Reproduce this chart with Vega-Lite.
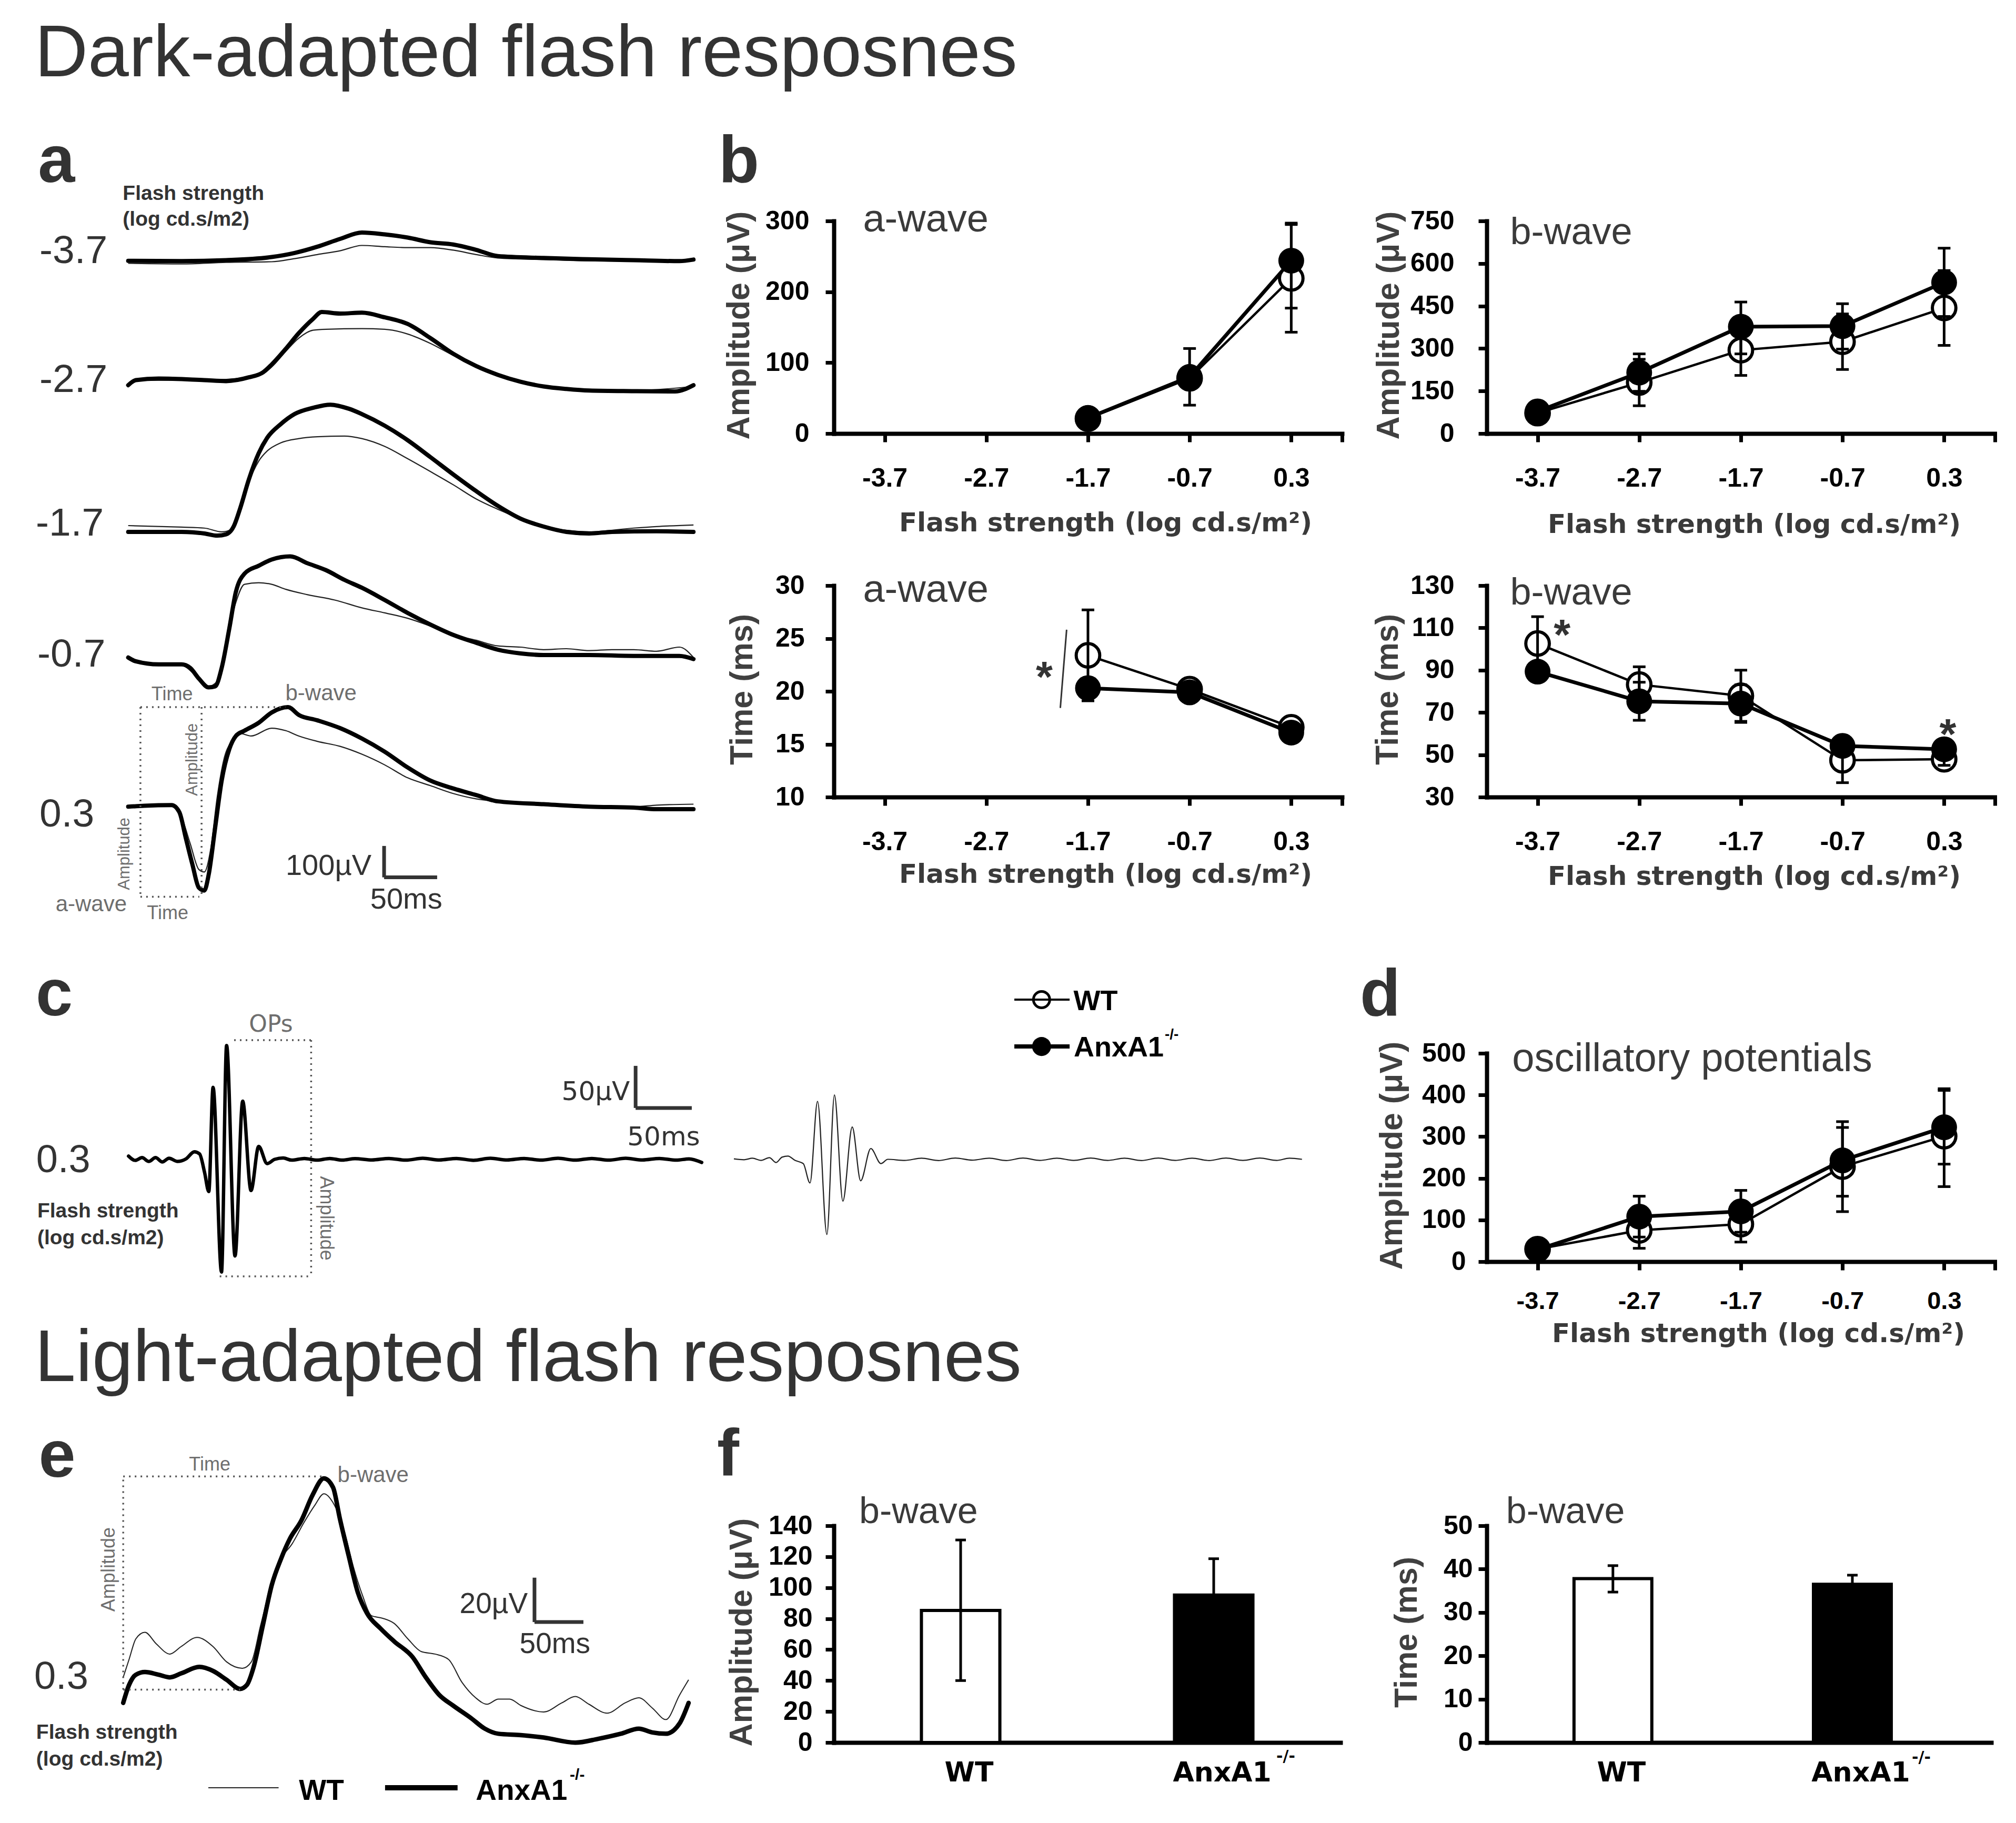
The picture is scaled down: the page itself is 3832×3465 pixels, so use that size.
{
"$schema": "https://vega.github.io/schema/vega-lite/v6.json",
"padding": 0,
"background": "#ffffff",
"columns": 3,
"align": "each",
"bounds": "flush",
"spacing": {"row": 289, "column": 275},
"datasets": {
"traceA": [
{"flash":"-3.7","geno":"AnxA1-/-","t":0,"uv":1738},{"flash":"-3.7","geno":"AnxA1-/-","t":49,"uv":1737},{"flash":"-3.7","geno":"AnxA1-/-","t":90,"uv":1740},{"flash":"-3.7","geno":"AnxA1-/-","t":132,"uv":1750},{"flash":"-3.7","geno":"AnxA1-/-","t":153,"uv":1763},{"flash":"-3.7","geno":"AnxA1-/-","t":174,"uv":1783},{"flash":"-3.7","geno":"AnxA1-/-","t":195,"uv":1808},{"flash":"-3.7","geno":"AnxA1-/-","t":215,"uv":1828},{"flash":"-3.7","geno":"AnxA1-/-","t":236,"uv":1822},{"flash":"-3.7","geno":"AnxA1-/-","t":257,"uv":1812},{"flash":"-3.7","geno":"AnxA1-/-","t":278,"uv":1797},{"flash":"-3.7","geno":"AnxA1-/-","t":299,"uv":1790},{"flash":"-3.7","geno":"AnxA1-/-","t":320,"uv":1773},{"flash":"-3.7","geno":"AnxA1-/-","t":340,"uv":1753},{"flash":"-3.7","geno":"AnxA1-/-","t":382,"uv":1747},{"flash":"-3.7","geno":"AnxA1-/-","t":424,"uv":1743},{"flash":"-3.7","geno":"AnxA1-/-","t":465,"uv":1740},{"flash":"-3.7","geno":"AnxA1-/-","t":507,"uv":1737},{"flash":"-3.7","geno":"AnxA1-/-","t":520,"uv":1742},
{"flash":"-3.7","geno":"WT","t":0,"uv":1730},{"flash":"-3.7","geno":"WT","t":49,"uv":1728},{"flash":"-3.7","geno":"WT","t":90,"uv":1733},{"flash":"-3.7","geno":"WT","t":132,"uv":1735},{"flash":"-3.7","geno":"WT","t":153,"uv":1745},{"flash":"-3.7","geno":"WT","t":174,"uv":1758},{"flash":"-3.7","geno":"WT","t":195,"uv":1770},{"flash":"-3.7","geno":"WT","t":215,"uv":1787},{"flash":"-3.7","geno":"WT","t":236,"uv":1783},{"flash":"-3.7","geno":"WT","t":257,"uv":1780},{"flash":"-3.7","geno":"WT","t":278,"uv":1780},{"flash":"-3.7","geno":"WT","t":299,"uv":1772},{"flash":"-3.7","geno":"WT","t":320,"uv":1758},{"flash":"-3.7","geno":"WT","t":340,"uv":1747},{"flash":"-3.7","geno":"WT","t":382,"uv":1742},{"flash":"-3.7","geno":"WT","t":424,"uv":1738},{"flash":"-3.7","geno":"WT","t":465,"uv":1737},{"flash":"-3.7","geno":"WT","t":520,"uv":1740},
{"flash":"-2.7","geno":"AnxA1-/-","t":0,"uv":1342},{"flash":"-2.7","geno":"AnxA1-/-","t":7,"uv":1358},{"flash":"-2.7","geno":"AnxA1-/-","t":28,"uv":1363},{"flash":"-2.7","geno":"AnxA1-/-","t":70,"uv":1358},{"flash":"-2.7","geno":"AnxA1-/-","t":90,"uv":1355},{"flash":"-2.7","geno":"AnxA1-/-","t":111,"uv":1367},{"flash":"-2.7","geno":"AnxA1-/-","t":124,"uv":1383},{"flash":"-2.7","geno":"AnxA1-/-","t":132,"uv":1408},{"flash":"-2.7","geno":"AnxA1-/-","t":145,"uv":1458},{"flash":"-2.7","geno":"AnxA1-/-","t":157,"uv":1508},{"flash":"-2.7","geno":"AnxA1-/-","t":170,"uv":1553},{"flash":"-2.7","geno":"AnxA1-/-","t":178,"uv":1575},{"flash":"-2.7","geno":"AnxA1-/-","t":195,"uv":1570},{"flash":"-2.7","geno":"AnxA1-/-","t":215,"uv":1573},{"flash":"-2.7","geno":"AnxA1-/-","t":236,"uv":1558},{"flash":"-2.7","geno":"AnxA1-/-","t":257,"uv":1537},{"flash":"-2.7","geno":"AnxA1-/-","t":278,"uv":1492},{"flash":"-2.7","geno":"AnxA1-/-","t":299,"uv":1442},{"flash":"-2.7","geno":"AnxA1-/-","t":320,"uv":1403},{"flash":"-2.7","geno":"AnxA1-/-","t":340,"uv":1375},{"flash":"-2.7","geno":"AnxA1-/-","t":361,"uv":1353},{"flash":"-2.7","geno":"AnxA1-/-","t":382,"uv":1338},{"flash":"-2.7","geno":"AnxA1-/-","t":403,"uv":1330},{"flash":"-2.7","geno":"AnxA1-/-","t":424,"uv":1325},{"flash":"-2.7","geno":"AnxA1-/-","t":465,"uv":1323},{"flash":"-2.7","geno":"AnxA1-/-","t":503,"uv":1322},{"flash":"-2.7","geno":"AnxA1-/-","t":520,"uv":1342},
{"flash":"-2.7","geno":"WT","t":0,"uv":1342},{"flash":"-2.7","geno":"WT","t":7,"uv":1358},{"flash":"-2.7","geno":"WT","t":70,"uv":1358},{"flash":"-2.7","geno":"WT","t":111,"uv":1367},{"flash":"-2.7","geno":"WT","t":124,"uv":1378},{"flash":"-2.7","geno":"WT","t":132,"uv":1400},{"flash":"-2.7","geno":"WT","t":145,"uv":1450},{"flash":"-2.7","geno":"WT","t":157,"uv":1492},{"flash":"-2.7","geno":"WT","t":170,"uv":1517},{"flash":"-2.7","geno":"WT","t":182,"uv":1520},{"flash":"-2.7","geno":"WT","t":215,"uv":1522},{"flash":"-2.7","geno":"WT","t":236,"uv":1520},{"flash":"-2.7","geno":"WT","t":257,"uv":1505},{"flash":"-2.7","geno":"WT","t":278,"uv":1475},{"flash":"-2.7","geno":"WT","t":299,"uv":1437},{"flash":"-2.7","geno":"WT","t":320,"uv":1405},{"flash":"-2.7","geno":"WT","t":340,"uv":1375},{"flash":"-2.7","geno":"WT","t":382,"uv":1338},{"flash":"-2.7","geno":"WT","t":424,"uv":1325},{"flash":"-2.7","geno":"WT","t":465,"uv":1325},{"flash":"-2.7","geno":"WT","t":520,"uv":1338},
{"flash":"-1.7","geno":"AnxA1-/-","t":0,"uv":875},{"flash":"-1.7","geno":"AnxA1-/-","t":49,"uv":875},{"flash":"-1.7","geno":"AnxA1-/-","t":70,"uv":870},{"flash":"-1.7","geno":"AnxA1-/-","t":82,"uv":863},{"flash":"-1.7","geno":"AnxA1-/-","t":90,"uv":867},{"flash":"-1.7","geno":"AnxA1-/-","t":97,"uv":892},{"flash":"-1.7","geno":"AnxA1-/-","t":103,"uv":950},{"flash":"-1.7","geno":"AnxA1-/-","t":111,"uv":1042},{"flash":"-1.7","geno":"AnxA1-/-","t":120,"uv":1125},{"flash":"-1.7","geno":"AnxA1-/-","t":128,"uv":1175},{"flash":"-1.7","geno":"AnxA1-/-","t":140,"uv":1217},{"flash":"-1.7","geno":"AnxA1-/-","t":153,"uv":1250},{"flash":"-1.7","geno":"AnxA1-/-","t":170,"uv":1270},{"flash":"-1.7","geno":"AnxA1-/-","t":186,"uv":1280},{"flash":"-1.7","geno":"AnxA1-/-","t":203,"uv":1267},{"flash":"-1.7","geno":"AnxA1-/-","t":215,"uv":1250},{"flash":"-1.7","geno":"AnxA1-/-","t":236,"uv":1213},{"flash":"-1.7","geno":"AnxA1-/-","t":257,"uv":1167},{"flash":"-1.7","geno":"AnxA1-/-","t":278,"uv":1113},{"flash":"-1.7","geno":"AnxA1-/-","t":299,"uv":1058},{"flash":"-1.7","geno":"AnxA1-/-","t":320,"uv":1005},{"flash":"-1.7","geno":"AnxA1-/-","t":340,"uv":958},{"flash":"-1.7","geno":"AnxA1-/-","t":361,"uv":917},{"flash":"-1.7","geno":"AnxA1-/-","t":382,"uv":892},{"flash":"-1.7","geno":"AnxA1-/-","t":403,"uv":875},{"flash":"-1.7","geno":"AnxA1-/-","t":424,"uv":870},{"flash":"-1.7","geno":"AnxA1-/-","t":445,"uv":875},{"flash":"-1.7","geno":"AnxA1-/-","t":486,"uv":877},{"flash":"-1.7","geno":"AnxA1-/-","t":520,"uv":875},
{"flash":"-1.7","geno":"WT","t":0,"uv":895},{"flash":"-1.7","geno":"WT","t":49,"uv":890},{"flash":"-1.7","geno":"WT","t":70,"uv":887},{"flash":"-1.7","geno":"WT","t":86,"uv":875},{"flash":"-1.7","geno":"WT","t":95,"uv":883},{"flash":"-1.7","geno":"WT","t":103,"uv":942},{"flash":"-1.7","geno":"WT","t":111,"uv":1033},{"flash":"-1.7","geno":"WT","t":120,"uv":1100},{"flash":"-1.7","geno":"WT","t":128,"uv":1133},{"flash":"-1.7","geno":"WT","t":140,"uv":1158},{"flash":"-1.7","geno":"WT","t":157,"uv":1172},{"flash":"-1.7","geno":"WT","t":174,"uv":1178},{"flash":"-1.7","geno":"WT","t":199,"uv":1180},{"flash":"-1.7","geno":"WT","t":215,"uv":1172},{"flash":"-1.7","geno":"WT","t":236,"uv":1147},{"flash":"-1.7","geno":"WT","t":257,"uv":1108},{"flash":"-1.7","geno":"WT","t":278,"uv":1067},{"flash":"-1.7","geno":"WT","t":299,"uv":1025},{"flash":"-1.7","geno":"WT","t":320,"uv":980},{"flash":"-1.7","geno":"WT","t":340,"uv":947},{"flash":"-1.7","geno":"WT","t":361,"uv":917},{"flash":"-1.7","geno":"WT","t":382,"uv":892},{"flash":"-1.7","geno":"WT","t":403,"uv":880},{"flash":"-1.7","geno":"WT","t":424,"uv":875},{"flash":"-1.7","geno":"WT","t":465,"uv":887},{"flash":"-1.7","geno":"WT","t":486,"uv":892},{"flash":"-1.7","geno":"WT","t":520,"uv":897},
{"flash":"-0.7","geno":"AnxA1-/-","t":0,"uv":475},{"flash":"-0.7","geno":"AnxA1-/-","t":7,"uv":463},{"flash":"-0.7","geno":"AnxA1-/-","t":28,"uv":453},{"flash":"-0.7","geno":"AnxA1-/-","t":49,"uv":453},{"flash":"-0.7","geno":"AnxA1-/-","t":57,"uv":442},{"flash":"-0.7","geno":"AnxA1-/-","t":65,"uv":408},{"flash":"-0.7","geno":"AnxA1-/-","t":74,"uv":380},{"flash":"-0.7","geno":"AnxA1-/-","t":80,"uv":383},{"flash":"-0.7","geno":"AnxA1-/-","t":86,"uv":442},{"flash":"-0.7","geno":"AnxA1-/-","t":93,"uv":567},{"flash":"-0.7","geno":"AnxA1-/-","t":99,"uv":683},{"flash":"-0.7","geno":"AnxA1-/-","t":107,"uv":742},{"flash":"-0.7","geno":"AnxA1-/-","t":120,"uv":767},{"flash":"-0.7","geno":"AnxA1-/-","t":132,"uv":787},{"flash":"-0.7","geno":"AnxA1-/-","t":149,"uv":797},{"flash":"-0.7","geno":"AnxA1-/-","t":165,"uv":775},{"flash":"-0.7","geno":"AnxA1-/-","t":182,"uv":753},{"flash":"-0.7","geno":"AnxA1-/-","t":199,"uv":722},{"flash":"-0.7","geno":"AnxA1-/-","t":215,"uv":697},{"flash":"-0.7","geno":"AnxA1-/-","t":236,"uv":658},{"flash":"-0.7","geno":"AnxA1-/-","t":257,"uv":617},{"flash":"-0.7","geno":"AnxA1-/-","t":278,"uv":580},{"flash":"-0.7","geno":"AnxA1-/-","t":299,"uv":547},{"flash":"-0.7","geno":"AnxA1-/-","t":320,"uv":522},{"flash":"-0.7","geno":"AnxA1-/-","t":340,"uv":500},{"flash":"-0.7","geno":"AnxA1-/-","t":361,"uv":488},{"flash":"-0.7","geno":"AnxA1-/-","t":382,"uv":483},{"flash":"-0.7","geno":"AnxA1-/-","t":424,"uv":483},{"flash":"-0.7","geno":"AnxA1-/-","t":465,"uv":480},{"flash":"-0.7","geno":"AnxA1-/-","t":507,"uv":480},{"flash":"-0.7","geno":"AnxA1-/-","t":520,"uv":470},
{"flash":"-0.7","geno":"WT","t":0,"uv":470},{"flash":"-0.7","geno":"WT","t":7,"uv":458},{"flash":"-0.7","geno":"WT","t":49,"uv":450},{"flash":"-0.7","geno":"WT","t":65,"uv":408},{"flash":"-0.7","geno":"WT","t":74,"uv":383},{"flash":"-0.7","geno":"WT","t":82,"uv":400},{"flash":"-0.7","geno":"WT","t":90,"uv":517},{"flash":"-0.7","geno":"WT","t":99,"uv":650},{"flash":"-0.7","geno":"WT","t":107,"uv":708},{"flash":"-0.7","geno":"WT","t":120,"uv":713},{"flash":"-0.7","geno":"WT","t":132,"uv":708},{"flash":"-0.7","geno":"WT","t":145,"uv":692},{"flash":"-0.7","geno":"WT","t":165,"uv":675},{"flash":"-0.7","geno":"WT","t":190,"uv":658},{"flash":"-0.7","geno":"WT","t":215,"uv":633},{"flash":"-0.7","geno":"WT","t":236,"uv":617},{"flash":"-0.7","geno":"WT","t":257,"uv":600},{"flash":"-0.7","geno":"WT","t":278,"uv":575},{"flash":"-0.7","geno":"WT","t":299,"uv":547},{"flash":"-0.7","geno":"WT","t":320,"uv":530},{"flash":"-0.7","geno":"WT","t":340,"uv":512},{"flash":"-0.7","geno":"WT","t":361,"uv":508},{"flash":"-0.7","geno":"WT","t":382,"uv":500},{"flash":"-0.7","geno":"WT","t":403,"uv":503},{"flash":"-0.7","geno":"WT","t":424,"uv":497},{"flash":"-0.7","geno":"WT","t":445,"uv":500},{"flash":"-0.7","geno":"WT","t":465,"uv":500},{"flash":"-0.7","geno":"WT","t":486,"uv":495},{"flash":"-0.7","geno":"WT","t":507,"uv":508},{"flash":"-0.7","geno":"WT","t":520,"uv":475},
{"flash":"0.3","geno":"AnxA1-/-","t":0,"uv":0},{"flash":"0.3","geno":"AnxA1-/-","t":15,"uv":3},{"flash":"0.3","geno":"AnxA1-/-","t":40,"uv":5},{"flash":"0.3","geno":"AnxA1-/-","t":47,"uv":-17},{"flash":"0.3","geno":"AnxA1-/-","t":53,"uv":-100},{"flash":"0.3","geno":"AnxA1-/-","t":59,"uv":-183},{"flash":"0.3","geno":"AnxA1-/-","t":65,"uv":-258},{"flash":"0.3","geno":"AnxA1-/-","t":70,"uv":-267},{"flash":"0.3","geno":"AnxA1-/-","t":74,"uv":-217},{"flash":"0.3","geno":"AnxA1-/-","t":80,"uv":-67},{"flash":"0.3","geno":"AnxA1-/-","t":86,"uv":83},{"flash":"0.3","geno":"AnxA1-/-","t":93,"uv":183},{"flash":"0.3","geno":"AnxA1-/-","t":99,"uv":225},{"flash":"0.3","geno":"AnxA1-/-","t":107,"uv":242},{"flash":"0.3","geno":"AnxA1-/-","t":120,"uv":267},{"flash":"0.3","geno":"AnxA1-/-","t":132,"uv":300},{"flash":"0.3","geno":"AnxA1-/-","t":147,"uv":317},{"flash":"0.3","geno":"AnxA1-/-","t":157,"uv":292},{"flash":"0.3","geno":"AnxA1-/-","t":174,"uv":275},{"flash":"0.3","geno":"AnxA1-/-","t":195,"uv":250},{"flash":"0.3","geno":"AnxA1-/-","t":215,"uv":217},{"flash":"0.3","geno":"AnxA1-/-","t":236,"uv":175},{"flash":"0.3","geno":"AnxA1-/-","t":257,"uv":125},{"flash":"0.3","geno":"AnxA1-/-","t":278,"uv":83},{"flash":"0.3","geno":"AnxA1-/-","t":299,"uv":58},{"flash":"0.3","geno":"AnxA1-/-","t":320,"uv":37},{"flash":"0.3","geno":"AnxA1-/-","t":340,"uv":17},{"flash":"0.3","geno":"AnxA1-/-","t":382,"uv":8},{"flash":"0.3","geno":"AnxA1-/-","t":424,"uv":0},{"flash":"0.3","geno":"AnxA1-/-","t":465,"uv":-3},{"flash":"0.3","geno":"AnxA1-/-","t":486,"uv":-8},{"flash":"0.3","geno":"AnxA1-/-","t":520,"uv":-8},
{"flash":"0.3","geno":"WT","t":0,"uv":0},{"flash":"0.3","geno":"WT","t":40,"uv":5},{"flash":"0.3","geno":"WT","t":49,"uv":-33},{"flash":"0.3","geno":"WT","t":57,"uv":-117},{"flash":"0.3","geno":"WT","t":65,"uv":-200},{"flash":"0.3","geno":"WT","t":70,"uv":-208},{"flash":"0.3","geno":"WT","t":76,"uv":-133},{"flash":"0.3","geno":"WT","t":82,"uv":33},{"flash":"0.3","geno":"WT","t":88,"uv":150},{"flash":"0.3","geno":"WT","t":95,"uv":208},{"flash":"0.3","geno":"WT","t":103,"uv":233},{"flash":"0.3","geno":"WT","t":113,"uv":225},{"flash":"0.3","geno":"WT","t":132,"uv":250},{"flash":"0.3","geno":"WT","t":145,"uv":242},{"flash":"0.3","geno":"WT","t":157,"uv":225},{"flash":"0.3","geno":"WT","t":174,"uv":208},{"flash":"0.3","geno":"WT","t":195,"uv":192},{"flash":"0.3","geno":"WT","t":215,"uv":167},{"flash":"0.3","geno":"WT","t":236,"uv":133},{"flash":"0.3","geno":"WT","t":257,"uv":92},{"flash":"0.3","geno":"WT","t":278,"uv":67},{"flash":"0.3","geno":"WT","t":299,"uv":42},{"flash":"0.3","geno":"WT","t":320,"uv":25},{"flash":"0.3","geno":"WT","t":340,"uv":17},{"flash":"0.3","geno":"WT","t":382,"uv":8},{"flash":"0.3","geno":"WT","t":424,"uv":0},{"flash":"0.3","geno":"WT","t":465,"uv":0},{"flash":"0.3","geno":"WT","t":486,"uv":5},{"flash":"0.3","geno":"WT","t":520,"uv":8}
],
"traceC": [
{"geno":"AnxA1-/-","t":0,"uv":3.8},{"geno":"AnxA1-/-","t":6,"uv":-1.3},{"geno":"AnxA1-/-","t":12,"uv":2},{"geno":"AnxA1-/-","t":18,"uv":-2.5},{"geno":"AnxA1-/-","t":24,"uv":2},{"geno":"AnxA1-/-","t":30,"uv":-3.1},{"geno":"AnxA1-/-","t":36,"uv":1.3},{"geno":"AnxA1-/-","t":43.5,"uv":-2.5},{"geno":"AnxA1-/-","t":51,"uv":0.5},{"geno":"AnxA1-/-","t":58.5,"uv":8.9},{"geno":"AnxA1-/-","t":63.1,"uv":6.4},{"geno":"AnxA1-/-","t":67.5,"uv":-15.3},{"geno":"AnxA1-/-","t":71.3,"uv":-38.3},{"geno":"AnxA1-/-","t":75.1,"uv":85.5},{"geno":"AnxA1-/-","t":82.6,"uv":-133.9},{"geno":"AnxA1-/-","t":87.1,"uv":135.2},{"geno":"AnxA1-/-","t":94.6,"uv":-114.8},{"geno":"AnxA1-/-","t":101.4,"uv":69},{"geno":"AnxA1-/-","t":108.8,"uv":-37},{"geno":"AnxA1-/-","t":115.6,"uv":15.3},{"geno":"AnxA1-/-","t":123.1,"uv":-5.1},{"geno":"AnxA1-/-","t":129.9,"uv":0},{"geno":"AnxA1-/-","t":137.4,"uv":1.5},{"geno":"AnxA1-/-","t":144.9,"uv":-1},{"geno":"AnxA1-/-","t":156.2,"uv":1},{"geno":"AnxA1-/-","t":167.4,"uv":-1},{"geno":"AnxA1-/-","t":178.7,"uv":1},{"geno":"AnxA1-/-","t":190,"uv":-1},{"geno":"AnxA1-/-","t":201.2,"uv":0.8},{"geno":"AnxA1-/-","t":216.2,"uv":-0.8},{"geno":"AnxA1-/-","t":231.3,"uv":1},{"geno":"AnxA1-/-","t":246.3,"uv":-1},{"geno":"AnxA1-/-","t":261.3,"uv":1.2},{"geno":"AnxA1-/-","t":276.3,"uv":-0.8},{"geno":"AnxA1-/-","t":291.3,"uv":1},{"geno":"AnxA1-/-","t":306.4,"uv":-1.2},{"geno":"AnxA1-/-","t":321.4,"uv":1.2},{"geno":"AnxA1-/-","t":336.4,"uv":-0.8},{"geno":"AnxA1-/-","t":351.4,"uv":1},{"geno":"AnxA1-/-","t":366.4,"uv":-1},{"geno":"AnxA1-/-","t":381.5,"uv":1.2},{"geno":"AnxA1-/-","t":396.5,"uv":-1},{"geno":"AnxA1-/-","t":411.5,"uv":1},{"geno":"AnxA1-/-","t":426.5,"uv":-1},{"geno":"AnxA1-/-","t":441.5,"uv":1.2},{"geno":"AnxA1-/-","t":456.6,"uv":-0.8},{"geno":"AnxA1-/-","t":471.6,"uv":1},{"geno":"AnxA1-/-","t":486.6,"uv":-1},{"geno":"AnxA1-/-","t":497.9,"uv":0.5},{"geno":"AnxA1-/-","t":509.1,"uv":-3.8},
{"geno":"WT","t":537.7,"uv":0.5},{"geno":"WT","t":546.7,"uv":-0.5},{"geno":"WT","t":554.2,"uv":1.3},{"geno":"WT","t":561.7,"uv":-1.3},{"geno":"WT","t":569.2,"uv":2},{"geno":"WT","t":575.2,"uv":-3.8},{"geno":"WT","t":580.5,"uv":2.6},{"geno":"WT","t":585.7,"uv":3.8},{"geno":"WT","t":592,"uv":-1.3},{"geno":"WT","t":599.3,"uv":-5.1},{"geno":"WT","t":605.3,"uv":-28.1},{"geno":"WT","t":612,"uv":68.9},{"geno":"WT","t":620.3,"uv":-89.3},{"geno":"WT","t":627,"uv":76.5},{"geno":"WT","t":634.5,"uv":-49.7},{"geno":"WT","t":642.8,"uv":38.3},{"geno":"WT","t":650.3,"uv":-25.5},{"geno":"WT","t":659.3,"uv":12.8},{"geno":"WT","t":668.3,"uv":-5.1},{"geno":"WT","t":674.4,"uv":0},{"geno":"WT","t":689.4,"uv":-1.3},{"geno":"WT","t":704.4,"uv":1.3},{"geno":"WT","t":719.4,"uv":-1.5},{"geno":"WT","t":734.4,"uv":1.5},{"geno":"WT","t":749.5,"uv":-1},{"geno":"WT","t":764.5,"uv":1.3},{"geno":"WT","t":779.5,"uv":-1.5},{"geno":"WT","t":794.5,"uv":1.5},{"geno":"WT","t":809.5,"uv":-1.3},{"geno":"WT","t":824.6,"uv":1.3},{"geno":"WT","t":839.6,"uv":-1.3},{"geno":"WT","t":854.6,"uv":1.5},{"geno":"WT","t":869.6,"uv":-1.3},{"geno":"WT","t":884.6,"uv":1.3},{"geno":"WT","t":899.7,"uv":-1.5},{"geno":"WT","t":914.7,"uv":1.5},{"geno":"WT","t":929.7,"uv":-1.3},{"geno":"WT","t":944.7,"uv":1.3},{"geno":"WT","t":959.7,"uv":-1.5},{"geno":"WT","t":974.8,"uv":1.5},{"geno":"WT","t":989.8,"uv":-1.3},{"geno":"WT","t":1004.8,"uv":1.5},{"geno":"WT","t":1019.8,"uv":-1.3},{"geno":"WT","t":1031.1,"uv":1.3},{"geno":"WT","t":1042.3,"uv":0}
],
"traceE": [
{"geno":"AnxA1-/-","t":0,"uv":-6},{"geno":"AnxA1-/-","t":6,"uv":2.1},{"geno":"AnxA1-/-","t":13,"uv":6.7},{"geno":"AnxA1-/-","t":22.2,"uv":7.9},{"geno":"AnxA1-/-","t":36.1,"uv":6.7},{"geno":"AnxA1-/-","t":47.7,"uv":5.5},{"geno":"AnxA1-/-","t":59.3,"uv":7.3},{"geno":"AnxA1-/-","t":77.8,"uv":10.2},{"geno":"AnxA1-/-","t":91.7,"uv":8.4},{"geno":"AnxA1-/-","t":105.6,"uv":4.4},{"geno":"AnxA1-/-","t":119.5,"uv":0.3},{"geno":"AnxA1-/-","t":126.4,"uv":2.1},{"geno":"AnxA1-/-","t":133.3,"uv":10.2},{"geno":"AnxA1-/-","t":142.6,"uv":28.7},{"geno":"AnxA1-/-","t":151.9,"uv":47.2},{"geno":"AnxA1-/-","t":161.1,"uv":58.7},{"geno":"AnxA1-/-","t":170.4,"uv":68},{"geno":"AnxA1-/-","t":182,"uv":76.1},{"geno":"AnxA1-/-","t":193.5,"uv":87.6},{"geno":"AnxA1-/-","t":205.1,"uv":95.1},{"geno":"AnxA1-/-","t":214.4,"uv":91.1},{"geno":"AnxA1-/-","t":221.3,"uv":77.2},{"geno":"AnxA1-/-","t":230.6,"uv":59.9},{"geno":"AnxA1-/-","t":239.8,"uv":43.7},{"geno":"AnxA1-/-","t":249.1,"uv":34.4},{"geno":"AnxA1-/-","t":263,"uv":27.5},{"geno":"AnxA1-/-","t":276.9,"uv":21.7},{"geno":"AnxA1-/-","t":295.4,"uv":14.8},{"geno":"AnxA1-/-","t":309.3,"uv":5.5},{"geno":"AnxA1-/-","t":323.2,"uv":-2.5},{"geno":"AnxA1-/-","t":337.1,"uv":-7.2},{"geno":"AnxA1-/-","t":355.6,"uv":-12.9},{"geno":"AnxA1-/-","t":369.5,"uv":-17.6},{"geno":"AnxA1-/-","t":383.4,"uv":-19.9},{"geno":"AnxA1-/-","t":406.5,"uv":-20.5},{"geno":"AnxA1-/-","t":429.6,"uv":-21.6},{"geno":"AnxA1-/-","t":462,"uv":-23.9},{"geno":"AnxA1-/-","t":485.2,"uv":-22.2},{"geno":"AnxA1-/-","t":508.4,"uv":-19.9},{"geno":"AnxA1-/-","t":526.9,"uv":-17.6},{"geno":"AnxA1-/-","t":540.7,"uv":-19.3},{"geno":"AnxA1-/-","t":554.6,"uv":-19.9},{"geno":"AnxA1-/-","t":568.5,"uv":-15.3},{"geno":"AnxA1-/-","t":577.8,"uv":-6},
{"geno":"WT","t":0,"uv":5.5},{"geno":"WT","t":6,"uv":13.6},{"geno":"WT","t":13,"uv":22.9},{"geno":"WT","t":22.2,"uv":25.8},{"geno":"WT","t":33.8,"uv":20.6},{"geno":"WT","t":47.7,"uv":16},{"geno":"WT","t":59.3,"uv":19.4},{"geno":"WT","t":75.5,"uv":23.5},{"geno":"WT","t":91.7,"uv":19.4},{"geno":"WT","t":105.6,"uv":12.5},{"geno":"WT","t":121.8,"uv":9.6},{"geno":"WT","t":131,"uv":12.5},{"geno":"WT","t":140.3,"uv":28.7},{"geno":"WT","t":151.9,"uv":48.3},{"geno":"WT","t":161.1,"uv":58.7},{"geno":"WT","t":172.7,"uv":65.7},{"geno":"WT","t":184.3,"uv":74.9},{"geno":"WT","t":195.8,"uv":83},{"geno":"WT","t":205.1,"uv":88.2},{"geno":"WT","t":214.4,"uv":84.2},{"geno":"WT","t":225.9,"uv":71.4},{"geno":"WT","t":235.2,"uv":55.3},{"geno":"WT","t":244.5,"uv":42.5},{"geno":"WT","t":253.7,"uv":33.3},{"geno":"WT","t":265.3,"uv":32.1},{"geno":"WT","t":276.9,"uv":29.8},{"geno":"WT","t":290.8,"uv":22.9},{"geno":"WT","t":304.7,"uv":17.1},{"geno":"WT","t":318.6,"uv":16},{"geno":"WT","t":332.4,"uv":13.6},{"geno":"WT","t":346.3,"uv":3.2},{"geno":"WT","t":360.2,"uv":-3.7},{"geno":"WT","t":371.8,"uv":-6.6},{"geno":"WT","t":383.4,"uv":-4.3},{"geno":"WT","t":394.9,"uv":-4.3},{"geno":"WT","t":406.5,"uv":-7.2},{"geno":"WT","t":429.6,"uv":-10.1},{"geno":"WT","t":448.2,"uv":-6},{"geno":"WT","t":462,"uv":-3.1},{"geno":"WT","t":475.9,"uv":-6.6},{"geno":"WT","t":494.5,"uv":-10.6},{"geno":"WT","t":513,"uv":-6},{"geno":"WT","t":526.9,"uv":-3.7},{"geno":"WT","t":540.7,"uv":-8.3},{"geno":"WT","t":554.6,"uv":-13.5},{"geno":"WT","t":568.5,"uv":-2.5},{"geno":"WT","t":577.8,"uv":4.4}
],
"stats": [
{"panel":"b1","geno":"AnxA1-/-","flash":-1.7,"mean":22,"lo":22,"hi":22},{"panel":"b1","geno":"AnxA1-/-","flash":-0.7,"mean":80,"lo":40,"hi":120},{"panel":"b1","geno":"AnxA1-/-","flash":0.3,"mean":244,"lo":177,"hi":297},
{"panel":"b1","geno":"WT","flash":-1.7,"mean":21,"lo":21,"hi":21},{"panel":"b1","geno":"WT","flash":-0.7,"mean":78,"lo":78,"hi":78},{"panel":"b1","geno":"WT","flash":0.3,"mean":219,"lo":143,"hi":295},
{"panel":"b2","geno":"AnxA1-/-","flash":-3.7,"mean":78,"lo":78,"hi":78},{"panel":"b2","geno":"AnxA1-/-","flash":-2.7,"mean":215,"lo":149,"hi":281},{"panel":"b2","geno":"AnxA1-/-","flash":-1.7,"mean":377,"lo":281,"hi":464},{"panel":"b2","geno":"AnxA1-/-","flash":-0.7,"mean":379,"lo":298,"hi":458},{"panel":"b2","geno":"AnxA1-/-","flash":0.3,"mean":533,"lo":413,"hi":654},
{"panel":"b2","geno":"WT","flash":-3.7,"mean":72,"lo":72,"hi":72},{"panel":"b2","geno":"WT","flash":-2.7,"mean":180,"lo":98,"hi":262},{"panel":"b2","geno":"WT","flash":-1.7,"mean":294,"lo":205,"hi":383},{"panel":"b2","geno":"WT","flash":-0.7,"mean":324,"lo":226,"hi":422},{"panel":"b2","geno":"WT","flash":0.3,"mean":443,"lo":311,"hi":575},
{"panel":"b3","geno":"AnxA1-/-","flash":-1.7,"mean":20.3,"lo":20.3,"hi":20.3},{"panel":"b3","geno":"AnxA1-/-","flash":-0.7,"mean":19.9,"lo":19.9,"hi":19.9},{"panel":"b3","geno":"AnxA1-/-","flash":0.3,"mean":16.1,"lo":16.1,"hi":16.1},
{"panel":"b3","geno":"WT","flash":-1.7,"mean":23.4,"lo":19.1,"hi":27.7},{"panel":"b3","geno":"WT","flash":-0.7,"mean":20.2,"lo":20.2,"hi":20.2},{"panel":"b3","geno":"WT","flash":0.3,"mean":16.6,"lo":16.6,"hi":16.6},
{"panel":"b4","geno":"AnxA1-/-","flash":-3.7,"mean":89.3,"lo":89.3,"hi":89.3},{"panel":"b4","geno":"AnxA1-/-","flash":-2.7,"mean":75.3,"lo":66.3,"hi":84.3},{"panel":"b4","geno":"AnxA1-/-","flash":-1.7,"mean":74.2,"lo":65.3,"hi":83.1},{"panel":"b4","geno":"AnxA1-/-","flash":-0.7,"mean":54.2,"lo":54.2,"hi":54.2},{"panel":"b4","geno":"AnxA1-/-","flash":0.3,"mean":52.6,"lo":52.6,"hi":52.6},
{"panel":"b4","geno":"WT","flash":-3.7,"mean":102.6,"lo":89.9,"hi":115.3},{"panel":"b4","geno":"WT","flash":-2.7,"mean":83.2,"lo":74.8,"hi":91.6},{"panel":"b4","geno":"WT","flash":-1.7,"mean":77.9,"lo":65.8,"hi":90},{"panel":"b4","geno":"WT","flash":-0.7,"mean":47.4,"lo":36.8,"hi":58},{"panel":"b4","geno":"WT","flash":0.3,"mean":47.9,"lo":45,"hi":50.8},
{"panel":"d","geno":"AnxA1-/-","flash":-3.7,"mean":28.8,"lo":28.8,"hi":28.8},{"panel":"d","geno":"AnxA1-/-","flash":-2.7,"mean":108,"lo":59,"hi":157},{"panel":"d","geno":"AnxA1-/-","flash":-1.7,"mean":120.6,"lo":70.6,"hi":171},{"panel":"d","geno":"AnxA1-/-","flash":-0.7,"mean":243,"lo":157,"hi":336},{"panel":"d","geno":"AnxA1-/-","flash":0.3,"mean":322.5,"lo":234,"hi":411},
{"panel":"d","geno":"WT","flash":-3.7,"mean":30,"lo":30,"hi":30},{"panel":"d","geno":"WT","flash":-2.7,"mean":75,"lo":32,"hi":118},{"panel":"d","geno":"WT","flash":-1.7,"mean":90,"lo":47,"hi":133},{"panel":"d","geno":"WT","flash":-0.7,"mean":228,"lo":120,"hi":322},{"panel":"d","geno":"WT","flash":0.3,"mean":301,"lo":180,"hi":415}
],
"bars": [
{"panel":"f1","geno":"WT","mean":85.3,"lo":40,"hi":130.8},{"panel":"f1","geno":"AnxA1-/-","mean":95.2,"lo":71.7,"hi":118.7},
{"panel":"f2","geno":"WT","mean":37.8,"lo":34.7,"hi":40.8},{"panel":"f2","geno":"AnxA1-/-","mean":36.5,"lo":34.4,"hi":38.6}
]
},
"concat": [
{"width":1,"height":131,"data":{"values":[]},"mark":"point"},
{"width":1,"height":1,"data":{"values":[]},"mark":"point"},
{"width":1,"height":1,"data":{"values":[]},"mark":"point"},
{
"width":1310,"height":404,
"encoding":{
"x":{"field":"t","type":"quantitative","scale":{"domain":[-117.92,516.04],"nice":false,"zero":false},"axis":null},
"y":{"field":"uv","type":"quantitative","scale":{"domain":[1188.12,1864.86],"nice":false,"zero":false},"axis":null}
},
"layer":[
{"data":{"name":"traceA"},"transform":[{"filter":"datum.geno == 'WT'"}],"mark":{"type":"line","interpolate":"monotone","color":"#222222","strokeWidth":2.2},"encoding":{"detail":{"field":"flash"}}},
{"data":{"name":"traceA"},"transform":[{"filter":"datum.geno != 'WT'"}],"mark":{"type":"line","interpolate":"monotone","color":"#000000","strokeWidth":8,"strokeCap":"round","strokeJoin":"round"},"encoding":{"detail":{"field":"flash"}}},
{"data":{"values":[{"t":11.25,"uv":317,"t2":11.25,"uv2":-287},{"t":67.5,"uv":317,"t2":67.5,"uv2":-283},{"t":11.25,"uv":317,"t2":144.6,"uv2":317},{"t":11.25,"uv":-287,"t2":65.4,"uv2":-287}]},"mark":{"type":"rule","color":"#555555","strokeWidth":3.5,"strokeDash":[3,8]},"encoding":{"x2":{"field":"t2"},"y2":{"field":"uv2"}}},
{"data":{"values":[{"t":235.4,"uv":-125,"t2":235.4,"uv2":-225},{"t":235.4,"uv":-225,"t2":284.2,"uv2":-225}]},"mark":{"type":"rule","color":"#333333","strokeWidth":7},"encoding":{"x2":{"field":"t2"},"y2":{"field":"uv2"}}},
{"data":{"values":[{"t":-86,"uv":2325.5,"text":"Dark-adapted flash resposnes"}]},"mark":{"type":"text","font":"Liberation Sans","fontSize":140,"align":"left","baseline":"alphabetic","color":"#333333"},"encoding":{"text":{"field":"text"}}},
{"data":{"values":[{"t":-83,"uv":1988.8,"text":"a"},{"t":543.1,"uv":1987.8,"text":"b"}]},"mark":{"type":"text","font":"Liberation Sans","fontWeight":"bold","fontSize":126,"align":"left","baseline":"alphabetic","color":"#333333"},"encoding":{"text":{"field":"text"}}},
{"data":{"values":[{"t":-81.6,"uv":1730.9,"text":"-3.7"},{"t":-81.6,"uv":1320.5,"text":"-2.7"},{"t":-85,"uv":863.1,"text":"-1.7"},{"t":-83.5,"uv":446.7,"text":"-0.7"},{"t":-81.6,"uv":-63.2,"text":"0.3"}]},"mark":{"type":"text","font":"Liberation Sans","fontSize":75,"align":"left","baseline":"alphabetic","color":"#333333"},"encoding":{"text":{"field":"text"}}},
{"data":{"values":[{"t":-5,"uv":1932.7,"text":"Flash strength"},{"t":-5,"uv":1850.4,"text":"(log cd.s/m2)"}]},"mark":{"type":"text","font":"Liberation Sans","fontWeight":"bold","fontSize":39,"align":"left","baseline":"alphabetic","color":"#333333"},"encoding":{"text":{"field":"text"}}},
{"data":{"values":[{"t":40.4,"uv":338.3,"text":"Time"},{"t":36.3,"uv":-358,"text":"Time"}]},"mark":{"type":"text","font":"Liberation Sans","fontSize":36,"align":"center","baseline":"alphabetic","color":"#6e6e6e"},"encoding":{"text":{"field":"text"}}},
{"data":{"values":[{"t":144.6,"uv":338.3,"text":"b-wave"}]},"mark":{"type":"text","font":"Liberation Sans","fontSize":42,"align":"left","baseline":"alphabetic","color":"#6e6e6e"},"encoding":{"text":{"field":"text"}}},
{"data":{"values":[{"t":-1.25,"uv":-333,"text":"a-wave"}]},"mark":{"type":"text","font":"Liberation Sans","fontSize":42,"align":"right","baseline":"alphabetic","color":"#6e6e6e"},"encoding":{"text":{"field":"text"}}},
{"data":{"values":[{"t":59.2,"uv":150,"text":"Amplitude"},{"t":-3.3,"uv":-150,"text":"Amplitude"}]},"mark":{"type":"text","font":"Liberation Sans","fontSize":31,"angle":270,"align":"center","baseline":"middle","color":"#6e6e6e"},"encoding":{"text":{"field":"text"}}},
{"data":{"values":[{"t":223.75,"uv":-216.7,"text":"100µV"}]},"mark":{"type":"text","font":"Liberation Sans","fontSize":56,"align":"right","baseline":"alphabetic","color":"#333333"},"encoding":{"text":{"field":"text"}}},
{"data":{"values":[{"t":255.8,"uv":-325,"text":"50ms"}]},"mark":{"type":"text","font":"Liberation Sans","fontSize":56,"align":"center","baseline":"alphabetic","color":"#333333"},"encoding":{"text":{"field":"text"}}}
]
},
{
"width":966,"height":404,
"data":{"name":"stats"},
"encoding":{
"x":{"field":"flash","type":"quantitative","scale":{"domain":[-4.2,0.8],"nice":false,"zero":false},"axis":{"values":[-3.7,-2.7,-1.7,-0.7,0.3,0.8],"labelExpr":"datum.value > 0.5 ? '' : toString(datum.value)","labelPadding":44,"title":"Flash strength (log cd.s/m²)","titleX":516,"titleY":185,"titleAlign":"center","titleAngle":0,"titleBaseline":"alphabetic"}},
"y":{"field":"mean","type":"quantitative","scale":{"domain":[0,300],"nice":false,"zero":false},"axis":{"values":[0,100,200,300],"labelPadding":31,"title":"Amplitude (μV)","titleX":-162,"titleY":198,"titleAlign":"center","titleAngle":270,"titleBaseline":"alphabetic"}}
},
"layer":[
{"transform":[{"filter":"datum.panel == 'b1' && datum.geno == 'WT'"}],"mark":{"type":"line","color":"#000000","strokeWidth":4.5}},
{"transform":[{"filter":"datum.panel == 'b1' && datum.geno != 'WT'"}],"mark":{"type":"line","color":"#000000","strokeWidth":7}},
{"transform":[{"filter":"datum.panel == 'b1' && datum.geno == 'WT'"}],"mark":{"type":"point","shape":"circle","filled":true,"fill":"#ffffff","stroke":"#000000","strokeWidth":6,"size":2000,"opacity":1}},
{"transform":[{"filter":"datum.panel == 'b1' && datum.hi > datum.mean"}],"mark":{"type":"rule","color":"#000000","strokeWidth":5},"encoding":{"y":{"field":"lo","type":"quantitative","title":"Amplitude (μV)"},"y2":{"field":"hi"}}},
{"transform":[{"filter":"datum.panel == 'b1' && datum.hi > datum.mean"}],"mark":{"type":"tick","orient":"horizontal","color":"#000000","size":24,"thickness":5,"opacity":1},"encoding":{"y":{"field":"lo","type":"quantitative","title":"Amplitude (μV)"}}},
{"transform":[{"filter":"datum.panel == 'b1' && datum.hi > datum.mean"}],"mark":{"type":"tick","orient":"horizontal","color":"#000000","size":24,"thickness":5,"opacity":1},"encoding":{"y":{"field":"hi","type":"quantitative","title":"Amplitude (μV)"}}},
{"transform":[{"filter":"datum.panel == 'b1' && datum.geno != 'WT'"}],"mark":{"type":"point","shape":"circle","filled":true,"color":"#000000","size":2400,"opacity":1}},
{"data":{"values":[{"flash":-3.913,"mean":285.5,"label":"a-wave"}]},"mark":{"type":"text","font":"Liberation Sans","fontSize":74,"align":"left","baseline":"alphabetic","color":"#3a3a3a"},"encoding":{"text":{"field":"label"}}}
]
},
{
"width":966,"height":404,
"data":{"name":"stats"},
"encoding":{
"x":{"field":"flash","type":"quantitative","scale":{"domain":[-4.2,0.8],"nice":false,"zero":false},"axis":{"values":[-3.7,-2.7,-1.7,-0.7,0.3,0.8],"labelExpr":"datum.value > 0.5 ? '' : toString(datum.value)","labelPadding":44,"title":"Flash strength (log cd.s/m²)","titleX":508,"titleY":188,"titleAlign":"center","titleAngle":0,"titleBaseline":"alphabetic"}},
"y":{"field":"mean","type":"quantitative","scale":{"domain":[0,750],"nice":false,"zero":false},"axis":{"values":[0,150,300,450,600,750],"labelPadding":46,"title":"Amplitude (μV)","titleX":-168,"titleY":198,"titleAlign":"center","titleAngle":270,"titleBaseline":"alphabetic"}}
},
"layer":[
{"transform":[{"filter":"datum.panel == 'b2' && datum.geno == 'WT'"}],"mark":{"type":"line","color":"#000000","strokeWidth":4.5}},
{"transform":[{"filter":"datum.panel == 'b2' && datum.geno != 'WT'"}],"mark":{"type":"line","color":"#000000","strokeWidth":7}},
{"transform":[{"filter":"datum.panel == 'b2' && datum.geno == 'WT'"}],"mark":{"type":"point","shape":"circle","filled":true,"fill":"#ffffff","stroke":"#000000","strokeWidth":6,"size":2000,"opacity":1}},
{"transform":[{"filter":"datum.panel == 'b2' && datum.hi > datum.mean"}],"mark":{"type":"rule","color":"#000000","strokeWidth":5},"encoding":{"y":{"field":"lo","type":"quantitative","title":"Amplitude (μV)"},"y2":{"field":"hi"}}},
{"transform":[{"filter":"datum.panel == 'b2' && datum.hi > datum.mean"}],"mark":{"type":"tick","orient":"horizontal","color":"#000000","size":24,"thickness":5,"opacity":1},"encoding":{"y":{"field":"lo","type":"quantitative","title":"Amplitude (μV)"}}},
{"transform":[{"filter":"datum.panel == 'b2' && datum.hi > datum.mean"}],"mark":{"type":"tick","orient":"horizontal","color":"#000000","size":24,"thickness":5,"opacity":1},"encoding":{"y":{"field":"hi","type":"quantitative","title":"Amplitude (μV)"}}},
{"transform":[{"filter":"datum.panel == 'b2' && datum.geno != 'WT'"}],"mark":{"type":"point","shape":"circle","filled":true,"color":"#000000","size":2400,"opacity":1}},
{"data":{"values":[{"flash":-3.97,"mean":669,"label":"b-wave"}]},"mark":{"type":"text","font":"Liberation Sans","fontSize":72,"align":"left","baseline":"alphabetic","color":"#3a3a3a"},"encoding":{"text":{"field":"label"}}}
]
},
{"width":1,"height":600,"data":{"values":[]},"mark":"point"},
{
"width":966,"height":402,
"data":{"name":"stats"},
"encoding":{
"x":{"field":"flash","type":"quantitative","scale":{"domain":[-4.2,0.8],"nice":false,"zero":false},"axis":{"values":[-3.7,-2.7,-1.7,-0.7,0.3,0.8],"labelExpr":"datum.value > 0.5 ? '' : toString(datum.value)","labelPadding":44,"title":"Flash strength (log cd.s/m²)","titleX":516,"titleY":162,"titleAlign":"center","titleAngle":0,"titleBaseline":"alphabetic"}},
"y":{"field":"mean","type":"quantitative","scale":{"domain":[10,30],"nice":false,"zero":false},"axis":{"values":[10,15,20,25,30],"labelPadding":40,"title":"Time (ms)","titleX":-156,"titleY":197,"titleAlign":"center","titleAngle":270,"titleBaseline":"alphabetic"}}
},
"layer":[
{"transform":[{"filter":"datum.panel == 'b3' && datum.geno == 'WT'"}],"mark":{"type":"line","color":"#000000","strokeWidth":4.5}},
{"transform":[{"filter":"datum.panel == 'b3' && datum.geno != 'WT'"}],"mark":{"type":"line","color":"#000000","strokeWidth":7}},
{"transform":[{"filter":"datum.panel == 'b3' && datum.geno == 'WT'"}],"mark":{"type":"point","shape":"circle","filled":true,"fill":"#ffffff","stroke":"#000000","strokeWidth":6,"size":2000,"opacity":1}},
{"transform":[{"filter":"datum.panel == 'b3' && datum.hi > datum.mean"}],"mark":{"type":"rule","color":"#000000","strokeWidth":5},"encoding":{"y":{"field":"lo","type":"quantitative","title":"Time (ms)"},"y2":{"field":"hi"}}},
{"transform":[{"filter":"datum.panel == 'b3' && datum.hi > datum.mean"}],"mark":{"type":"tick","orient":"horizontal","color":"#000000","size":24,"thickness":5,"opacity":1},"encoding":{"y":{"field":"lo","type":"quantitative","title":"Time (ms)"}}},
{"transform":[{"filter":"datum.panel == 'b3' && datum.hi > datum.mean"}],"mark":{"type":"tick","orient":"horizontal","color":"#000000","size":24,"thickness":5,"opacity":1},"encoding":{"y":{"field":"hi","type":"quantitative","title":"Time (ms)"}}},
{"transform":[{"filter":"datum.panel == 'b3' && datum.geno != 'WT'"}],"mark":{"type":"point","shape":"circle","filled":true,"color":"#000000","size":2400,"opacity":1}},
{"data":{"values":[{"flash":-1.91,"mean":25.83,"flash2":-1.972,"mean2":18.43}]},"mark":{"type":"rule","color":"#333333","strokeWidth":3},"encoding":{"x2":{"field":"flash2"},"y2":{"field":"mean2"}}},
{"data":{"values":[{"flash":-2.13,"mean":20.0,"label":"*"}]},"mark":{"type":"text","font":"Liberation Sans","fontWeight":"bold","fontSize":82,"align":"center","baseline":"alphabetic","color":"#333333"},"encoding":{"text":{"field":"label"}}},
{"data":{"values":[{"flash":-3.913,"mean":28.46,"label":"a-wave"}]},"mark":{"type":"text","font":"Liberation Sans","fontSize":74,"align":"left","baseline":"alphabetic","color":"#3a3a3a"},"encoding":{"text":{"field":"label"}}}
]
},
{
"width":966,"height":402,
"data":{"name":"stats"},
"encoding":{
"x":{"field":"flash","type":"quantitative","scale":{"domain":[-4.2,0.8],"nice":false,"zero":false},"axis":{"values":[-3.7,-2.7,-1.7,-0.7,0.3,0.8],"labelExpr":"datum.value > 0.5 ? '' : toString(datum.value)","labelPadding":44,"title":"Flash strength (log cd.s/m²)","titleX":508,"titleY":166,"titleAlign":"center","titleAngle":0,"titleBaseline":"alphabetic"}},
"y":{"field":"mean","type":"quantitative","scale":{"domain":[30,130],"nice":false,"zero":false},"axis":{"values":[30,50,70,90,110,130],"labelPadding":46,"title":"Time (ms)","titleX":-170,"titleY":197,"titleAlign":"center","titleAngle":270,"titleBaseline":"alphabetic"}}
},
"layer":[
{"transform":[{"filter":"datum.panel == 'b4' && datum.geno == 'WT'"}],"mark":{"type":"line","color":"#000000","strokeWidth":4.5}},
{"transform":[{"filter":"datum.panel == 'b4' && datum.geno != 'WT'"}],"mark":{"type":"line","color":"#000000","strokeWidth":7}},
{"transform":[{"filter":"datum.panel == 'b4' && datum.geno == 'WT'"}],"mark":{"type":"point","shape":"circle","filled":true,"fill":"#ffffff","stroke":"#000000","strokeWidth":6,"size":2000,"opacity":1}},
{"transform":[{"filter":"datum.panel == 'b4' && datum.hi > datum.mean"}],"mark":{"type":"rule","color":"#000000","strokeWidth":5},"encoding":{"y":{"field":"lo","type":"quantitative","title":"Time (ms)"},"y2":{"field":"hi"}}},
{"transform":[{"filter":"datum.panel == 'b4' && datum.hi > datum.mean"}],"mark":{"type":"tick","orient":"horizontal","color":"#000000","size":24,"thickness":5,"opacity":1},"encoding":{"y":{"field":"lo","type":"quantitative","title":"Time (ms)"}}},
{"transform":[{"filter":"datum.panel == 'b4' && datum.hi > datum.mean"}],"mark":{"type":"tick","orient":"horizontal","color":"#000000","size":24,"thickness":5,"opacity":1},"encoding":{"y":{"field":"hi","type":"quantitative","title":"Time (ms)"}}},
{"transform":[{"filter":"datum.panel == 'b4' && datum.geno != 'WT'"}],"mark":{"type":"point","shape":"circle","filled":true,"color":"#000000","size":2400,"opacity":1}},
{"data":{"values":[{"flash":-3.459,"mean":100,"label":"*"},{"flash":0.336,"mean":53,"label":"*"}]},"mark":{"type":"text","font":"Liberation Sans","fontWeight":"bold","fontSize":82,"align":"center","baseline":"alphabetic","color":"#333333"},"encoding":{"text":{"field":"label"}}},
{"data":{"values":[{"flash":-3.97,"mean":121.15,"label":"b-wave"}]},"mark":{"type":"text","font":"Liberation Sans","fontSize":72,"align":"left","baseline":"alphabetic","color":"#3a3a3a"},"encoding":{"text":{"field":"label"}}}
]
},
{
"width":1310,"height":609,
"encoding":{
"x":{"field":"t","type":"quantitative","scale":{"domain":[-114.16,497.99],"nice":false,"zero":false},"axis":null},
"y":{"field":"uv","type":"quantitative","scale":{"domain":[-254.69,125.94],"nice":false,"zero":false},"axis":null}
},
"layer":[
{"data":{"name":"traceC"},"transform":[{"filter":"datum.geno == 'WT'"}],"mark":{"type":"line","interpolate":"monotone","color":"#222222","strokeWidth":2.2}},
{"data":{"name":"traceC"},"transform":[{"filter":"datum.geno != 'WT'"}],"mark":{"type":"line","interpolate":"monotone","color":"#000000","strokeWidth":6.5,"strokeCap":"round","strokeJoin":"round"}},
{"data":{"values":[{"t":93.8,"uv":141.5,"t2":162.2,"uv2":141.5},{"t":162.2,"uv":141.5,"t2":162.2,"uv2":-139},{"t":81,"uv":-139,"t2":162.2,"uv2":-139}]},"mark":{"type":"rule","color":"#555555","strokeWidth":3.5,"strokeDash":[3,8]},"encoding":{"x2":{"field":"t2"},"y2":{"field":"uv2"}}},
{"data":{"values":[{"t":450.4,"uv":111,"t2":450.4,"uv2":61},{"t":450.4,"uv":61,"t2":500.3,"uv2":61}]},"mark":{"type":"rule","color":"#333333","strokeWidth":7},"encoding":{"x2":{"field":"t2"},"y2":{"field":"uv2"}}},
{"data":{"values":[{"t":786.8,"uv":189.7,"t2":835.9,"uv2":189.7}]},"mark":{"type":"rule","color":"#000000","strokeWidth":4},"encoding":{"x2":{"field":"t2"},"y2":{"field":"uv2"}}},
{"data":{"values":[{"t":786.8,"uv":134,"t2":835.9,"uv2":134}]},"mark":{"type":"rule","color":"#000000","strokeWidth":8},"encoding":{"x2":{"field":"t2"},"y2":{"field":"uv2"}}},
{"data":{"values":[{"t":811,"uv":189.7}]},"mark":{"type":"point","shape":"circle","filled":false,"stroke":"#000000","strokeWidth":5,"size":960,"opacity":1}},
{"data":{"values":[{"t":811,"uv":134}]},"mark":{"type":"point","shape":"circle","filled":true,"color":"#000000","size":1300,"opacity":1}},
{"data":{"values":[{"t":-82.4,"uv":170.9,"text":"c"},{"t":1093.8,"uv":170.3,"text":"d"}]},"mark":{"type":"text","font":"Liberation Sans","fontWeight":"bold","fontSize":126,"align":"left","baseline":"alphabetic","color":"#333333"},"encoding":{"text":{"field":"text"}}},
{"data":{"values":[{"t":-83.3,"uv":-263.4,"text":"Light-adapted flash resposnes"}]},"mark":{"type":"text","font":"Liberation Sans","fontSize":140,"align":"left","baseline":"alphabetic","color":"#333333"},"encoding":{"text":{"field":"text"}}},
{"data":{"values":[{"t":-82,"uv":-15.3,"text":"0.3"}]},"mark":{"type":"text","font":"Liberation Sans","fontSize":74,"align":"left","baseline":"alphabetic","color":"#333333"},"encoding":{"text":{"field":"text"}}},
{"data":{"values":[{"t":-81,"uv":-68.9,"text":"Flash strength"},{"t":-81,"uv":-100.8,"text":"(log cd.s/m2)"}]},"mark":{"type":"text","font":"Liberation Sans","fontWeight":"bold","fontSize":39,"align":"left","baseline":"alphabetic","color":"#333333"},"encoding":{"text":{"field":"text"}}},
{"data":{"values":[{"t":126.5,"uv":151.6,"text":"OPs"}]},"mark":{"type":"text","font":"DejaVu Sans","fontSize":44,"align":"center","baseline":"alphabetic","color":"#6e6e6e"},"encoding":{"text":{"field":"text"}}},
{"data":{"values":[{"t":175.7,"uv":-70.1,"text":"Amplitude"}]},"mark":{"type":"text","font":"Liberation Sans","fontSize":36,"angle":90,"align":"center","baseline":"middle","color":"#6e6e6e"},"encoding":{"text":{"field":"text"}}},
{"data":{"values":[{"t":445.3,"uv":70.3,"text":"50µV"}]},"mark":{"type":"text","font":"DejaVu Sans","fontSize":50,"align":"right","baseline":"alphabetic","color":"#333333"},"encoding":{"text":{"field":"text"}}},
{"data":{"values":[{"t":475.3,"uv":16.6,"text":"50ms"}]},"mark":{"type":"text","font":"DejaVu Sans","fontSize":50,"align":"center","baseline":"alphabetic","color":"#333333"},"encoding":{"text":{"field":"text"}}},
{"data":{"values":[{"t":839.4,"uv":177.2,"text":"WT"},{"t":839.6,"uv":122.4,"text":"AnxA1"}]},"mark":{"type":"text","font":"Liberation Sans","fontWeight":"bold","fontSize":54,"align":"left","baseline":"alphabetic","color":"#000000"},"encoding":{"text":{"field":"text"}}},
{"data":{"values":[{"t":920.4,"uv":142.8,"text":"-/-"}]},"mark":{"type":"text","font":"Liberation Sans","fontWeight":"bold","fontSize":28,"align":"left","baseline":"alphabetic","color":"#000000"},"encoding":{"text":{"field":"text"}}}
]
},
{"width":1,"height":1,"data":{"values":[]},"mark":"point"},
{
"width":966,"height":396,
"data":{"name":"stats"},
"encoding":{
"x":{"field":"flash","type":"quantitative","scale":{"domain":[-4.2,0.8],"nice":false,"zero":false},"axis":{"values":[-3.7,-2.7,-1.7,-0.7,0.3,0.8],"labelExpr":"datum.value > 0.5 ? '' : toString(datum.value)","labelPadding":36,"labelFontSize":47,"title":"Flash strength (log cd.s/m²)","titleX":516,"titleY":152,"titleAlign":"center","titleAngle":0,"titleBaseline":"alphabetic"}},
"y":{"field":"mean","type":"quantitative","scale":{"domain":[0,500],"nice":false,"zero":false},"axis":{"values":[0,100,200,300,400,500],"labelPadding":24,"title":"Amplitude (μV)","titleX":-162,"titleY":194,"titleAlign":"center","titleAngle":270,"titleBaseline":"alphabetic"}}
},
"layer":[
{"transform":[{"filter":"datum.panel == 'd' && datum.geno == 'WT'"}],"mark":{"type":"line","color":"#000000","strokeWidth":4.5}},
{"transform":[{"filter":"datum.panel == 'd' && datum.geno != 'WT'"}],"mark":{"type":"line","color":"#000000","strokeWidth":7}},
{"transform":[{"filter":"datum.panel == 'd' && datum.geno == 'WT'"}],"mark":{"type":"point","shape":"circle","filled":true,"fill":"#ffffff","stroke":"#000000","strokeWidth":6,"size":2000,"opacity":1}},
{"transform":[{"filter":"datum.panel == 'd' && datum.hi > datum.mean"}],"mark":{"type":"rule","color":"#000000","strokeWidth":5},"encoding":{"y":{"field":"lo","type":"quantitative","title":"Amplitude (μV)"},"y2":{"field":"hi"}}},
{"transform":[{"filter":"datum.panel == 'd' && datum.hi > datum.mean"}],"mark":{"type":"tick","orient":"horizontal","color":"#000000","size":24,"thickness":5,"opacity":1},"encoding":{"y":{"field":"lo","type":"quantitative","title":"Amplitude (μV)"}}},
{"transform":[{"filter":"datum.panel == 'd' && datum.hi > datum.mean"}],"mark":{"type":"tick","orient":"horizontal","color":"#000000","size":24,"thickness":5,"opacity":1},"encoding":{"y":{"field":"hi","type":"quantitative","title":"Amplitude (μV)"}}},
{"transform":[{"filter":"datum.panel == 'd' && datum.geno != 'WT'"}],"mark":{"type":"point","shape":"circle","filled":true,"color":"#000000","size":2400,"opacity":1}},
{"data":{"values":[{"flash":-3.95,"mean":457,"label":"oscillatory potentials"}]},"mark":{"type":"text","font":"Liberation Sans","fontSize":76,"align":"left","baseline":"alphabetic","color":"#3a3a3a"},"encoding":{"text":{"field":"label"}}}
]
},
{
"width":1310,"height":412,
"encoding":{
"x":{"field":"t","type":"quantitative","scale":{"domain":[-125.91,578.39],"nice":false,"zero":false},"axis":null},
"y":{"field":"uv","type":"quantitative","scale":{"domain":[-23.84,73.79],"nice":false,"zero":false},"axis":null}
},
"layer":[
{"data":{"name":"traceE"},"transform":[{"filter":"datum.geno == 'WT'"}],"mark":{"type":"line","interpolate":"monotone","color":"#222222","strokeWidth":2}},
{"data":{"name":"traceE"},"transform":[{"filter":"datum.geno != 'WT'"}],"mark":{"type":"line","interpolate":"monotone","color":"#000000","strokeWidth":8.5,"strokeCap":"round","strokeJoin":"round"}},
{"data":{"values":[{"t":0,"uv":0,"t2":0,"uv2":96},{"t":0,"uv":96,"t2":205.1,"uv2":96},{"t":0,"uv":0,"t2":119.4,"uv2":0}]},"mark":{"type":"rule","color":"#555555","strokeWidth":3.5,"strokeDash":[3,8]},"encoding":{"x2":{"field":"t2"},"y2":{"field":"uv2"}}},
{"data":{"values":[{"t":420.3,"uv":50.4,"t2":420.3,"uv2":30.4},{"t":420.3,"uv":30.4,"t2":470.3,"uv2":30.4}]},"mark":{"type":"rule","color":"#333333","strokeWidth":7},"encoding":{"x2":{"field":"t2"},"y2":{"field":"uv2"}}},
{"data":{"values":[{"t":87,"uv":-44.2,"t2":158.8,"uv2":-44.2}]},"mark":{"type":"rule","color":"#222222","strokeWidth":2},"encoding":{"x2":{"field":"t2"},"y2":{"field":"uv2"}}},
{"data":{"values":[{"t":267.6,"uv":-44.2,"t2":341.7,"uv2":-44.2}]},"mark":{"type":"rule","color":"#000000","strokeWidth":10},"encoding":{"x2":{"field":"t2"},"y2":{"field":"uv2"}}},
{"data":{"values":[{"t":-86.4,"uv":95.8,"text":"e"},{"t":606.9,"uv":96.3,"text":"f"}]},"mark":{"type":"text","font":"Liberation Sans","fontWeight":"bold","fontSize":126,"align":"left","baseline":"alphabetic","color":"#333333"},"encoding":{"text":{"field":"text"}}},
{"data":{"values":[{"t":88.4,"uv":98.6,"text":"Time"}]},"mark":{"type":"text","font":"Liberation Sans","fontSize":36,"align":"center","baseline":"alphabetic","color":"#6e6e6e"},"encoding":{"text":{"field":"text"}}},
{"data":{"values":[{"t":219,"uv":93.4,"text":"b-wave"}]},"mark":{"type":"text","font":"Liberation Sans","fontSize":42,"align":"left","baseline":"alphabetic","color":"#6e6e6e"},"encoding":{"text":{"field":"text"}}},
{"data":{"values":[{"t":-14.8,"uv":54.1,"text":"Amplitude"}]},"mark":{"type":"text","font":"Liberation Sans","fontSize":36,"angle":270,"align":"center","baseline":"middle","color":"#6e6e6e"},"encoding":{"text":{"field":"text"}}},
{"data":{"values":[{"t":413.4,"uv":34.5,"text":"20µV"}]},"mark":{"type":"text","font":"Liberation Sans","fontSize":55,"align":"right","baseline":"alphabetic","color":"#333333"},"encoding":{"text":{"field":"text"}}},
{"data":{"values":[{"t":441.2,"uv":16.5,"text":"50ms"}]},"mark":{"type":"text","font":"Liberation Sans","fontSize":55,"align":"center","baseline":"alphabetic","color":"#333333"},"encoding":{"text":{"field":"text"}}},
{"data":{"values":[{"t":-91,"uv":0.35,"text":"0.3"}]},"mark":{"type":"text","font":"Liberation Sans","fontSize":74,"align":"left","baseline":"alphabetic","color":"#333333"},"encoding":{"text":{"field":"text"}}},
{"data":{"values":[{"t":-88.9,"uv":-22.2,"text":"Flash strength"},{"t":-88.9,"uv":-34.3,"text":"(log cd.s/m2)"}]},"mark":{"type":"text","font":"Liberation Sans","fontWeight":"bold","fontSize":39,"align":"left","baseline":"alphabetic","color":"#333333"},"encoding":{"text":{"field":"text"}}},
{"data":{"values":[{"t":179.6,"uv":-49.7,"text":"WT"},{"t":360.2,"uv":-49.7,"text":"AnxA1"}]},"mark":{"type":"text","font":"Liberation Sans","fontWeight":"bold","fontSize":55,"align":"left","baseline":"alphabetic","color":"#000000"},"encoding":{"text":{"field":"text"}}},
{"data":{"values":[{"t":456.4,"uv":-40.7,"text":"-/-"}]},"mark":{"type":"text","font":"Liberation Sans","fontWeight":"bold","fontSize":30,"align":"left","baseline":"alphabetic","color":"#000000"},"encoding":{"text":{"field":"text"}}}
]
},
{
"width":963,"height":412,
"data":{"name":"bars"},
"encoding":{
"x":{"field":"geno","type":"nominal","sort":null,"scale":{"type":"band","domain":["WT","AnxA1-/-"],"paddingInner":0.69,"paddingOuter":0.346,"align":0.5},"axis":{"title":null,"labelAngle":0,"ticks":false,"tickSize":0,"labelPadding":32,"labelFont":"DejaVu Sans","labelFontSize":52,"labelLimit":1000,"labelOffset":16,"labelExpr":"datum.value == 'WT' ? 'WT' : 'AnxA1'"}},
"y":{"field":"mean","type":"quantitative","scale":{"domain":[0,140],"nice":false},"axis":{"values":[0,20,40,60,80,100,120,140],"labelPadding":25,"title":"Amplitude (μV)","titleX":-157,"titleY":202,"titleAlign":"center","titleAngle":270,"titleBaseline":"alphabetic"}}
},
"layer":[
{"transform":[{"filter":"datum.panel == 'f1'"}],"mark":{"type":"bar","stroke":"#000000","strokeWidth":6},"encoding":{"fill":{"field":"geno","type":"nominal","scale":{"domain":["WT","AnxA1-/-"],"range":["#ffffff","#000000"]},"legend":null}}},
{"transform":[{"filter":"datum.panel == 'f1'"}],"mark":{"type":"rule","color":"#000000","strokeWidth":5},"encoding":{"y":{"field":"lo","type":"quantitative","title":"Amplitude (μV)"},"y2":{"field":"hi"}}},
{"transform":[{"filter":"datum.panel == 'f1'"}],"mark":{"type":"tick","orient":"horizontal","color":"#000000","size":20,"thickness":5,"opacity":1},"encoding":{"y":{"field":"lo","type":"quantitative","title":"Amplitude (μV)"}}},
{"transform":[{"filter":"datum.panel == 'f1'"}],"mark":{"type":"tick","orient":"horizontal","color":"#000000","size":20,"thickness":5,"opacity":1},"encoding":{"y":{"field":"hi","type":"quantitative","title":"Amplitude (μV)"}}},
{"data":{"values":[{"geno":"WT","mean":141.7,"label":"b-wave"}]},"mark":{"type":"text","font":"Liberation Sans","fontSize":70,"align":"left","baseline":"alphabetic","dx":-193,"color":"#3a3a3a"},"encoding":{"text":{"field":"label"}}},
{"data":{"values":[{"geno":"AnxA1-/-","mean":-12.2,"label":"-/-"}]},"mark":{"type":"text","font":"DejaVu Sans","fontWeight":"bold","fontSize":30,"align":"left","baseline":"alphabetic","dx":119,"color":"#000000"},"encoding":{"text":{"field":"label"}}}
]
},
{
"width":959,"height":412,
"data":{"name":"bars"},
"encoding":{
"x":{"field":"geno","type":"nominal","sort":null,"scale":{"type":"band","domain":["WT","AnxA1-/-"],"paddingInner":0.675,"paddingOuter":0.391,"align":0.466},"axis":{"title":null,"labelAngle":0,"ticks":false,"tickSize":0,"labelPadding":32,"labelFont":"DejaVu Sans","labelFontSize":52,"labelLimit":1000,"labelOffset":16,"labelExpr":"datum.value == 'WT' ? 'WT' : 'AnxA1'"}},
"y":{"field":"mean","type":"quantitative","scale":{"domain":[0,50],"nice":false},"axis":{"values":[0,10,20,30,40,50],"labelPadding":11,"title":"Time (ms)","titleX":-134,"titleY":202,"titleAlign":"center","titleAngle":270,"titleBaseline":"alphabetic"}}
},
"layer":[
{"transform":[{"filter":"datum.panel == 'f2'"}],"mark":{"type":"bar","stroke":"#000000","strokeWidth":6},"encoding":{"fill":{"field":"geno","type":"nominal","scale":{"domain":["WT","AnxA1-/-"],"range":["#ffffff","#000000"]},"legend":null}}},
{"transform":[{"filter":"datum.panel == 'f2'"}],"mark":{"type":"rule","color":"#000000","strokeWidth":5},"encoding":{"y":{"field":"lo","type":"quantitative","title":"Time (ms)"},"y2":{"field":"hi"}}},
{"transform":[{"filter":"datum.panel == 'f2'"}],"mark":{"type":"tick","orient":"horizontal","color":"#000000","size":20,"thickness":5,"opacity":1},"encoding":{"y":{"field":"lo","type":"quantitative","title":"Time (ms)"}}},
{"transform":[{"filter":"datum.panel == 'f2'"}],"mark":{"type":"tick","orient":"horizontal","color":"#000000","size":20,"thickness":5,"opacity":1},"encoding":{"y":{"field":"hi","type":"quantitative","title":"Time (ms)"}}},
{"data":{"values":[{"geno":"WT","mean":50.6,"label":"b-wave"}]},"mark":{"type":"text","font":"Liberation Sans","fontSize":70,"align":"left","baseline":"alphabetic","dx":-203,"color":"#3a3a3a"},"encoding":{"text":{"field":"label"}}},
{"data":{"values":[{"geno":"AnxA1-/-","mean":-4.6,"label":"-/-"}]},"mark":{"type":"text","font":"DejaVu Sans","fontWeight":"bold","fontSize":30,"align":"left","baseline":"alphabetic","dx":113,"color":"#000000"},"encoding":{"text":{"field":"label"}}}
]
}
],
"config": {
"view": {"stroke": null},
"font": "Liberation Sans",
"axis": {"domainColor":"#000000","domainWidth":8,"domainCap":"square","tickColor":"#000000","tickWidth":7,"tickSize":16,"labelFont":"Liberation Sans","labelFontWeight":"bold","labelFontSize":50,"labelColor":"#000000","labelFlush":false,"labelOverlap":false,"grid":false,"titleFont":"Liberation Sans","titleFontWeight":"bold","titleFontSize":61,"titleColor":"#404040"},
"axisX": {"titleFont":"DejaVu Sans","titleFontSize":50,"titleColor":"#3a3a3a"}
}
}
